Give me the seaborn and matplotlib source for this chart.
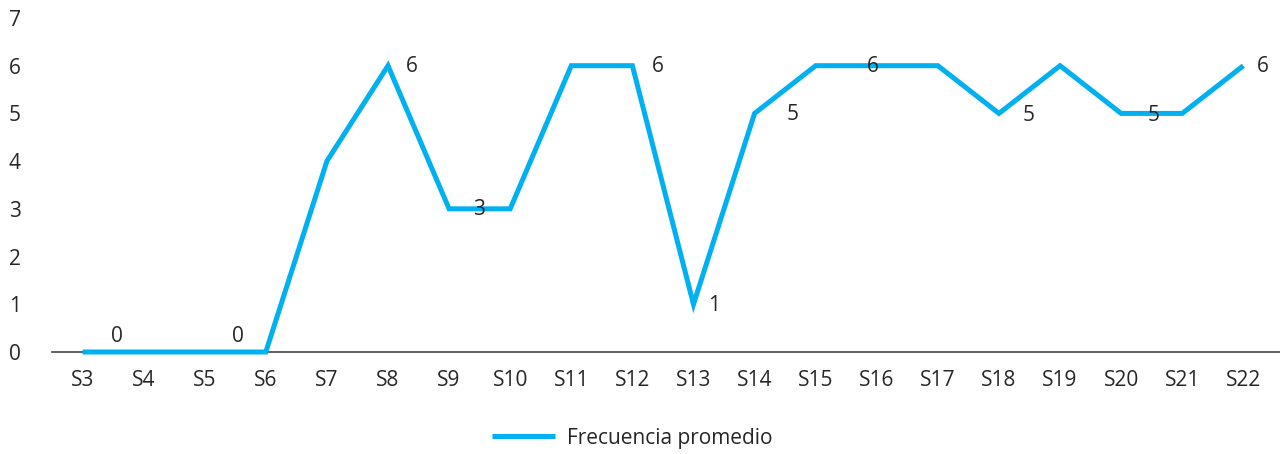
import matplotlib
matplotlib.use("Agg")
import matplotlib.pyplot as plt
import pandas as pd
import seaborn as sns

weeks = [f"S{i}" for i in range(3, 23)]
frecuencia = [0, 0, 0, 0, 4, 6, 3, 3, 6, 6, 1, 5, 6, 6, 6, 5, 6, 5, 5, 6]
# which points carry a data label, and where the label sits (pixels, +y up)
label_weeks = ["S4", "S6", "S8", "S9", "S12", "S13", "S14", "S16", "S18", "S20", "S22"]
label_offsets = [(-27, 15), (-28, 15), (24, -1), (30, -1), (25, -1), (21, -1),
                 (38, -1), (-4, -1), (30, -2), (32, -2), (19, -1)]

LINE_COLOR = "#00B0F0"
TEXT_COLOR = "#262626"

sns.set_theme(style="white")
plt.rcParams["font.family"] = ["Open Sans", "DejaVu Sans"]

df = pd.DataFrame({"Semana": weeks, "Frecuencia promedio": frecuencia})

fig = plt.figure(figsize=(12.8, 4.54), dpi=100)
ax = fig.add_axes([0.0406, 0.2247, 0.9594, 0.7357])

sns.lineplot(data=df, x="Semana", y="Frecuencia promedio", ax=ax,
             color=LINE_COLOR, linewidth=3.6, sort=False,
             label="Frecuencia promedio", zorder=5, clip_on=False,
             solid_joinstyle="miter", solid_capstyle="butt")

px = 0.72  # points per pixel at dpi 100
for wk, (dx, dy) in zip(label_weeks, label_offsets):
    i = weeks.index(wk)
    ax.annotate(str(frecuencia[i]), xy=(i, frecuencia[i]),
                xytext=(dx * px, dy * px), textcoords="offset points",
                ha="center", va="center", fontsize=15, color=TEXT_COLOR, zorder=6)

ax.set_xlim(-0.5, 19.6)
ax.set_ylim(0, 7)
ax.set_yticks(range(0, 8))
ax.set_xlabel("")
ax.set_ylabel("")

for side in ["top", "right", "left"]:
    ax.spines[side].set_visible(False)
ax.spines["bottom"].set_color("#444444")
ax.spines["bottom"].set_linewidth(1.2)
ax.spines["bottom"].set_zorder(1)

ax.tick_params(axis="x", length=0, pad=13, labelsize=15, labelcolor=TEXT_COLOR)
ax.tick_params(axis="y", length=0, pad=31, labelsize=15, labelcolor=TEXT_COLOR)
for lbl in ax.get_yticklabels():
    lbl.set_horizontalalignment("left")

ax.legend(loc="center", bbox_to_anchor=(0.494, 0.035), bbox_transform=fig.transFigure,
          frameon=False, fontsize=15, handlelength=3.0, handletextpad=0.6,
          labelcolor=TEXT_COLOR)

fig.savefig("out.png", dpi=100)
